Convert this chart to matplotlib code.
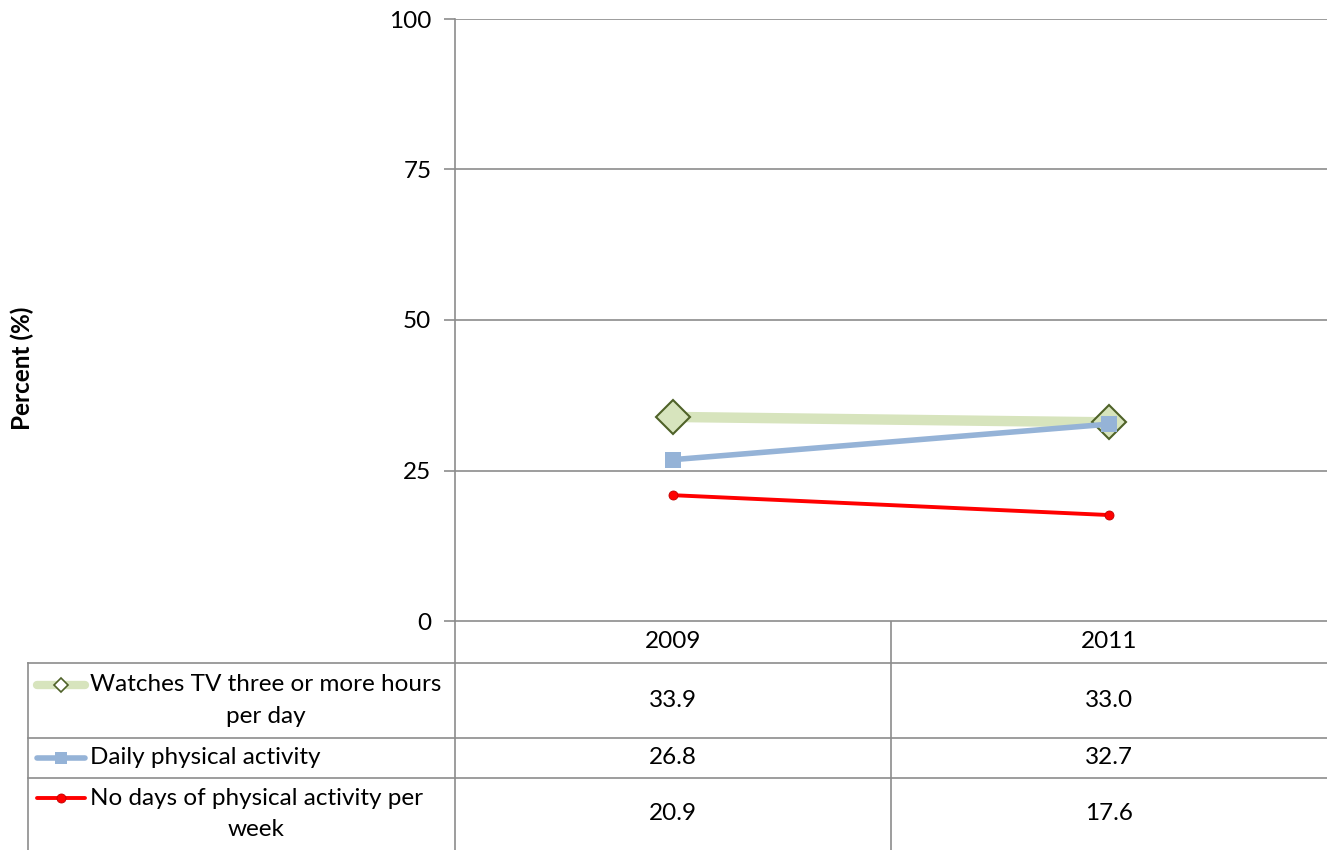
import numpy as np
import matplotlib.pyplot as plt

years = ["2009", "2011"]
series_names = ["Watches TV three or more hours\nper day",
                "Daily physical activity",
                "No days of physical activity per\nweek"]
tv = [33.9, 33.0]
daily = [26.8, 32.7]
nodays = [20.9, 17.6]
y_ticks = [0, 25, 50, 75, 100]

values = [tv, daily, nodays]
styles = [
    dict(color="#D7E4BD", lw=7.5, marker="D", ms=17, mfc="#D7E4BD", mec="#4F6228", mew=1.5),
    dict(color="#95B3D7", lw=4.0, marker="s", ms=12, mfc="#95B3D7", mec="#95B3D7", mew=0),
    dict(color="#FF0000", lw=2.8, marker="o", ms=6.5, mfc="#FF0000", mec="#C00000", mew=0.6),
]
key_lines = [("#D7E4BD", 6), ("#95B3D7", 4), ("#FF0000", 2.8)]
key_marks = [
    dict(marker="D", ms=7, mfc="white", mec="#4F6228", mew=1.2),
    dict(marker="s", ms=9, mfc="#95B3D7", mec="#95B3D7", mew=0),
    dict(marker="o", ms=6.5, mfc="#FF0000", mec="#C00000", mew=0.6),
]

plt.rcParams['font.family'] = ['Lato', 'DejaVu Sans']
W, H = 1327, 850
fig = plt.figure(figsize=(W / 100, H / 100), dpi=100)
grid_c = "#8C8C8C"
fs = 17.5

# pixel-coordinate overlay for table
ov = fig.add_axes([0, 0, 1, 1])
ov.set_xlim(0, W)
ov.set_ylim(H, 0)
ov.axis("off")

# plot area
x0, x1, ytop, ybot = 455, 1327, 19, 621
ax = fig.add_axes([x0 / W, 1 - ybot / H, (x1 - x0) / W, (ybot - ytop) / H])
ax.set_xlim(0, 2)
ax.set_ylim(0, 100)
xs = np.arange(len(years)) + 0.5
for vals, st in zip(values, styles):
    ax.plot(xs, vals, clip_on=False, zorder=3, solid_capstyle="butt", **st)
ax.set_yticks(y_ticks)
ax.set_yticklabels([str(t) for t in y_ticks], fontsize=fs)
ax.yaxis.grid(True, color=grid_c, lw=1.2)
ax.set_axisbelow(True)
ax.set_xticks([])
for s in ["top", "right", "bottom"]:
    ax.spines[s].set_visible(False)
ax.spines["left"].set_color(grid_c)
ax.spines["left"].set_linewidth(1.2)
ax.tick_params(axis="y", length=8, width=1.2, color=grid_c, pad=9)
ax.set_ylabel("Percent (%)", fontsize=fs, fontweight="bold")
ax.yaxis.set_label_coords((34 - x0) / (x1 - x0), (ybot - 368) / (ybot - ytop))

# data table
col_x = [28, 455, 891, 1327]
row_y = [621, 663, 738, 778, 850]
lk = dict(color=grid_c, lw=1.2)
ov.plot([col_x[1], col_x[3]], [row_y[0], row_y[0]], **lk)
for yy in row_y[1:4]:
    ov.plot([col_x[0], col_x[3]], [yy, yy], **lk)
ov.plot([col_x[1], col_x[1]], [row_y[0], row_y[4]], **lk)
ov.plot([col_x[2], col_x[2]], [row_y[0], row_y[4]], **lk)
ov.plot([col_x[0], col_x[0]], [row_y[1], row_y[4]], **lk)

centers = [(col_x[1] + col_x[2]) / 2, (col_x[2] + col_x[3]) / 2]
for cx, yr in zip(centers, years):
    ov.text(cx, (row_y[0] + row_y[1]) / 2, yr, ha="center", va="center", fontsize=fs)
for i, (name, vals) in enumerate(zip(series_names, values)):
    cy = (row_y[i + 1] + row_y[i + 2]) / 2
    ky = cy - 16 if "\n" in name else cy
    c, lw = key_lines[i]
    ov.plot([37, 85], [ky, ky], color=c, lw=lw, solid_capstyle="round")
    ov.plot([61], [ky], ls="none", **key_marks[i])
    ov.text(90, cy, name, ha="left", va="center", fontsize=fs, multialignment="center",
            linespacing=1.6)
    for cx, v in zip(centers, vals):
        ov.text(cx, cy, f"{v:.1f}", ha="center", va="center", fontsize=fs)

fig.savefig("out.png", dpi=100)
